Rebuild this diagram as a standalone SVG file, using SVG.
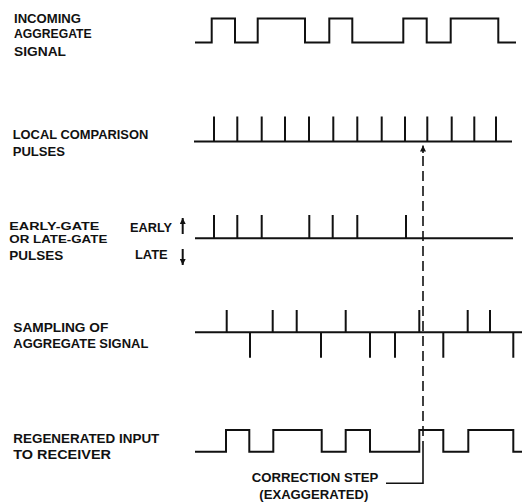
<svg xmlns="http://www.w3.org/2000/svg" width="523" height="503" viewBox="0 0 523 503">
<style>
text{font-family:"Liberation Sans",Arial,sans-serif;font-weight:bold;font-size:13.5px;fill:#111}
.sm{font-size:11.5px}
.w{fill:none;stroke:#111;stroke-width:2;stroke-linejoin:miter;stroke-linecap:butt}
.p{stroke:#111;stroke-width:2}
.d{stroke:#111;stroke-width:1.6;stroke-dasharray:10 5;fill:none}
</style>
<defs>
<marker id="ah" viewBox="0 0 10 10" refX="10" refY="5" markerWidth="6" markerHeight="6" orient="auto-start-reverse" markerUnits="userSpaceOnUse">
<path d="M0,0 L10,5 L0,10 Z" fill="#111"/>
</marker>
</defs>
<rect width="523" height="503" fill="#fff"/>

<g id="incoming">
<text x="14" y="22.7" textLength="67" lengthAdjust="spacingAndGlyphs">INCOMING</text>
<text x="14" y="38" textLength="77.7" lengthAdjust="spacingAndGlyphs">AGGREGATE</text>
<text x="14" y="55.5" textLength="52" lengthAdjust="spacingAndGlyphs">SIGNAL</text>
<path class="w" d="M195,42.5 H211.7 V18.5 H235 V42.5 H257.7 V18.5 H305 V42.5 H329.3 V18.5 H352.3 V42.5 H403.3 V18.5 H426.7 V42.5 H450.7 V18.5 H498.3 V42.5 H516"/>
</g>

<g id="local">
<text x="12.7" y="139.3" textLength="135.6" lengthAdjust="spacingAndGlyphs">LOCAL COMPARISON</text>
<text x="12.7" y="156" textLength="52.3" lengthAdjust="spacingAndGlyphs">PULSES</text>
<path class="w" d="M194,141.5 H512"/>
<path class="p" d="M214,116.5 V141.5 M237.3,116.5 V141.5 M261.7,116.5 V141.5 M285,116.5 V141.5 M309,116.5 V141.5 M333.3,116.5 V141.5 M357.3,116.5 V141.5 M381.7,116.5 V141.5 M405,116.5 V141.5 M427.3,116.5 V141.5 M451.7,116.5 V141.5 M474.3,116.5 V141.5 M496,116.5 V141.5"/>
</g>

<g id="earlylate">
<text class="sm" x="9.3" y="229.5" textLength="90" lengthAdjust="spacingAndGlyphs">EARLY-GATE</text>
<text class="sm" x="9.3" y="242.8" textLength="98" lengthAdjust="spacingAndGlyphs">OR LATE-GATE</text>
<text x="9.3" y="260" textLength="54" lengthAdjust="spacingAndGlyphs">PULSES</text>
<text x="130" y="232" textLength="42" lengthAdjust="spacingAndGlyphs">EARLY</text>
<text x="135" y="259.3" textLength="32.7" lengthAdjust="spacingAndGlyphs">LATE</text>
<line class="p" x1="182.7" y1="234" x2="182.7" y2="218" marker-end="url(#ah)"/>
<line class="p" x1="182.7" y1="249" x2="182.7" y2="265" marker-end="url(#ah)"/>
<path class="w" d="M195,238.3 H513"/>
<path class="p" d="M214,215 V238.3 M237.3,215 V238.3 M261.7,215 V238.3 M309.3,215 V238.3 M332.7,215 V238.3 M357.3,215 V238.3 M406,215 V238.3"/>
</g>

<g id="sampling">
<text x="13.3" y="331.7" textLength="95" lengthAdjust="spacingAndGlyphs">SAMPLING OF</text>
<text x="13.3" y="348.3" textLength="135" lengthAdjust="spacingAndGlyphs">AGGREGATE SIGNAL</text>
<path class="w" d="M195,332.3 H522"/>
<path class="p" d="M226.7,310 V332.3 M272.7,310 V332.3 M296.7,310 V332.3 M345.7,310 V332.3 M419.3,310 V332.3 M467.7,310 V332.3 M490,310 V332.3"/>
<path class="p" d="M250,332.3 V357.7 M321,332.3 V357.7 M370,332.3 V357.7 M395,332.3 V357.7 M443.3,332.3 V357.7 M513.3,332.3 V357.7"/>
</g>

<g id="regenerated">
<text x="13.3" y="442.7" textLength="146" lengthAdjust="spacingAndGlyphs">REGENERATED INPUT</text>
<text x="13.3" y="458.7" textLength="97.7" lengthAdjust="spacingAndGlyphs">TO RECEIVER</text>
<path class="w" d="M195,451.7 H226 V430 H249.3 V451.7 H273.3 V430 H321.7 V451.7 H345.7 V430 H370 V451.7 H419.3 V430 H443.3 V451.7 H468.3 V430 H513.3 V451.7 H522"/>
</g>

<g id="correction">
<text x="251.7" y="481.7" textLength="126.6" lengthAdjust="spacingAndGlyphs">CORRECTION STEP</text>
<text x="259.3" y="499" textLength="109" lengthAdjust="spacingAndGlyphs">(EXAGGERATED)</text>
</g>

<g id="connectors">
<line x1="423" y1="153" x2="423" y2="145.5" stroke="#111" stroke-width="1.6" marker-end="url(#ah)"/>
<line class="d" x1="423" y1="156" x2="423" y2="445"/>
<path d="M386,483.3 H423 V445" fill="none" stroke="#111" stroke-width="1.6"/>
</g>
</svg>
